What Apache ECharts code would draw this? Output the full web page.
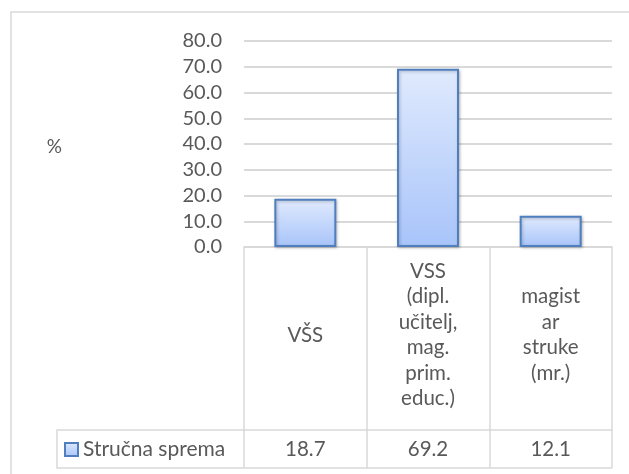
<!DOCTYPE html>
<html>
<head>
<meta charset="utf-8">
<script src="https://cdn.jsdelivr.net/npm/echarts@6/dist/echarts.min.js"></script>
<style>
  html, body { margin: 0; padding: 0; background: #fff; }
  #chart { width: 629px; height: 474px; }
</style>
</head>
<body>
<div id="chart"></div>
<script>
var categories = ['VŠS', 'VSS\n(dipl.\nučitelj,\nmag.\nprim.\neduc.)', 'magist\nar\nstruke\n(mr.)'];
var values = [18.7, 69.2, 12.1];
var seriesName = 'Stručna sprema';
var yTicks = { min: 0, max: 80, interval: 10 };

var font = 'Lato, "Open Sans", sans-serif';
var grey = '#595959';
var lineCol = '#d9d9d9';

var barFill = new echarts.graphic.LinearGradient(0, 0, 0, 1, [
  { offset: 0, color: '#e0eafd' },
  { offset: 1, color: '#a8c4fa' }
]);

var myChart = echarts.init(document.getElementById('chart'));
option = {
  animation: false,
  textStyle: { fontFamily: font },
  grid: { left: 244, right: 17, top: 41, bottom: 227, outerBoundsMode: 'none' },
  legend: {
    left: 64, top: 439, padding: 0,
    icon: 'rect', itemWidth: 13, itemHeight: 13,
    textStyle: { fontSize: 21, color: grey, fontFamily: font },
    data: [seriesName]
  },
  xAxis: [{
    type: 'category',
    data: categories.map(function (c, i) {
      // the middle label sits a little higher in the reference
      return i === 1 ? { value: c, textStyle: { verticalAlign: 'middle', padding: [0, 0, 14, 0] } } : c;
    }),
    axisLine: { show: true, lineStyle: { color: lineCol, width: 1.5 } },
    axisTick: { show: true, interval: 0, length: 183, lineStyle: { color: lineCol, width: 1.5 } },
    axisLabel: {
      interval: 0, margin: 88, verticalAlign: 'middle',
      fontSize: 20.5, lineHeight: 25.5, color: grey, fontFamily: font
    }
  }, {
    type: 'category',
    position: 'bottom',
    offset: 183,
    data: values.map(function (v) { return v.toFixed(1); }),
    axisLine: { show: true, lineStyle: { color: lineCol, width: 1.5 } },
    axisTick: { show: true, interval: 0, length: 38, lineStyle: { color: lineCol, width: 1.5 } },
    axisLabel: { interval: 0, margin: 19, verticalAlign: 'middle', fontSize: 20.5, color: grey, fontFamily: font }
  }],
  yAxis: {
    type: 'value',
    min: yTicks.min, max: yTicks.max, interval: yTicks.interval,
    name: '%',
    nameLocation: 'middle',
    nameGap: 182,
    nameRotate: 0,
    nameTextStyle: { fontSize: 19, color: grey, fontFamily: font, verticalAlign: 'top', lineHeight: 6 },
    axisLine: { show: false },
    axisTick: { show: false },
    axisLabel: {
      margin: 22, fontSize: 20, color: grey, fontFamily: font,
      formatter: function (v) { return v.toFixed(1); }
    },
    splitLine: { lineStyle: { color: lineCol, width: 1.8 } }
  },
  series: [{
    name: seriesName,
    type: 'bar',
    barWidth: 62,
    data: values,
    itemStyle: {
      color: barFill,
      borderColor: '#4f7fbf',
      borderWidth: 2,
      shadowColor: 'rgba(0,0,0,0.25)',
      shadowBlur: 3,
      shadowOffsetX: 1,
      shadowOffsetY: 1
    }
  }],
  graphic: [
    { type: 'rect', shape: { x: 11, y: 12, width: 640, height: 480 },
      style: { fill: 'none', stroke: lineCol, lineWidth: 1.5 }, silent: true },
    { type: 'polyline', shape: { points: [[244, 430], [57, 430], [57, 468], [612, 468]] },
      style: { fill: 'none', stroke: lineCol, lineWidth: 1.5 }, silent: true }
  ]
};
myChart.setOption(option);
</script>
</body>
</html>
